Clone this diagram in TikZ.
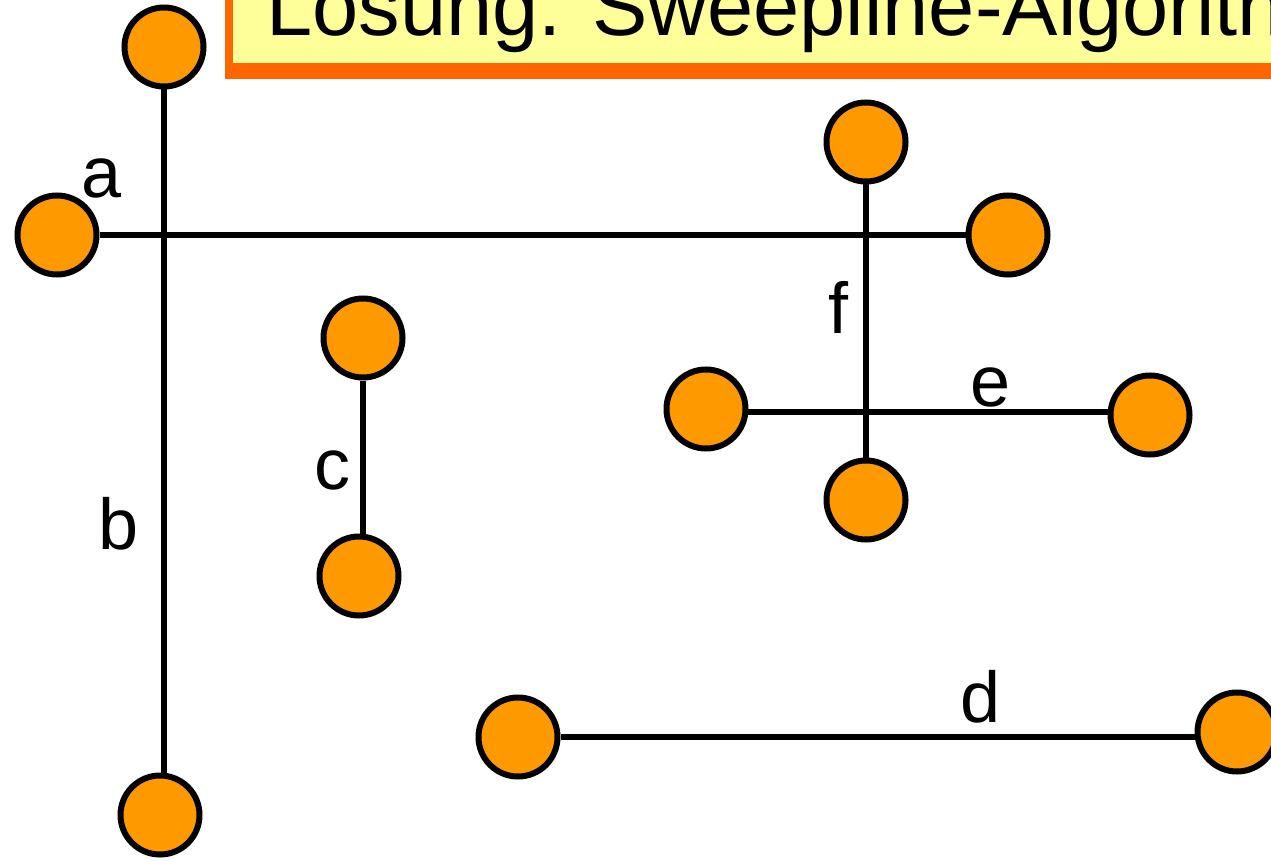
\documentclass[tikz,border=0pt]{standalone}
\usepackage{fontspec}
\setmainfont{Liberation Sans}
\usetikzlibrary{backgrounds}
\definecolor{ptfill}{HTML}{FF9900}
\definecolor{titlefill}{HTML}{FFFF99}
\definecolor{titleedge}{HTML}{FF6600}
\begin{document}
\begin{tikzpicture}[x=1pt,y=-1pt,
  endpoint/.style={circle,draw=black,line width=6pt,fill=ptfill,minimum size=79pt,inner sep=0pt},
  seg/.style={draw=black,line width=5.5pt},
  lbl/.style={anchor=base,inner sep=0pt,font=\fontsize{72}{80}\selectfont}]
\useasboundingbox (0,0) rectangle (1271,861);
\clip (0,0) rectangle (1271,861);

% title banner
\fill[titleedge] (225,-30) rectangle (1300,79);
\fill[titlefill] (233,-30) rectangle (1300,63);
\node[anchor=base west,inner sep=0pt,font=\fontsize{83}{90}\selectfont] (title) at (266,36) {Lösung. Sweepline-Algorithmus};

% segment end points
\node[endpoint] (bT) at (164,47) {};
\node[endpoint] (bB) at (160,815) {};
\node[endpoint] (aL) at (57,235) {};
\node[endpoint] (aR) at (1008,235) {};
\node[endpoint] (cT) at (363,338) {};
\node[endpoint] (cB) at (359,576) {};
\node[endpoint] (fT) at (866,142) {};
\node[endpoint] (fB) at (866,500) {};
\node[endpoint] (eL) at (706,409) {};
\node[endpoint] (eR) at (1150,415) {};
\node[endpoint] (dL) at (518,737) {};
\node[endpoint] (dR) at (1237,732) {};

% segments
\begin{scope}[on background layer]
\draw[seg] (aL) -- (aR);
\draw[seg] (bT) -- (bT |- bB);
\draw[seg] (cT) -- (cT |- cB);
\draw[seg] (fT) -- (fB);
\draw[seg] ([yshift=-3pt]eL.center) -- ([yshift=-3pt]eL.center -| eR);
\draw[seg] (dL) -- (dL -| dR);
\end{scope}

% segment names
\node[lbl] (la) at (102,197) {a};
\node[lbl] (lb) at (119,549) {b};
\node[lbl] (lc) at (332,489) {c};
\node[lbl] (lf) at (838,333) {f};
\node[lbl] (le) at (991,406) {e};
\node[lbl] (ld) at (981,722) {d};
\end{tikzpicture}
\end{document}
